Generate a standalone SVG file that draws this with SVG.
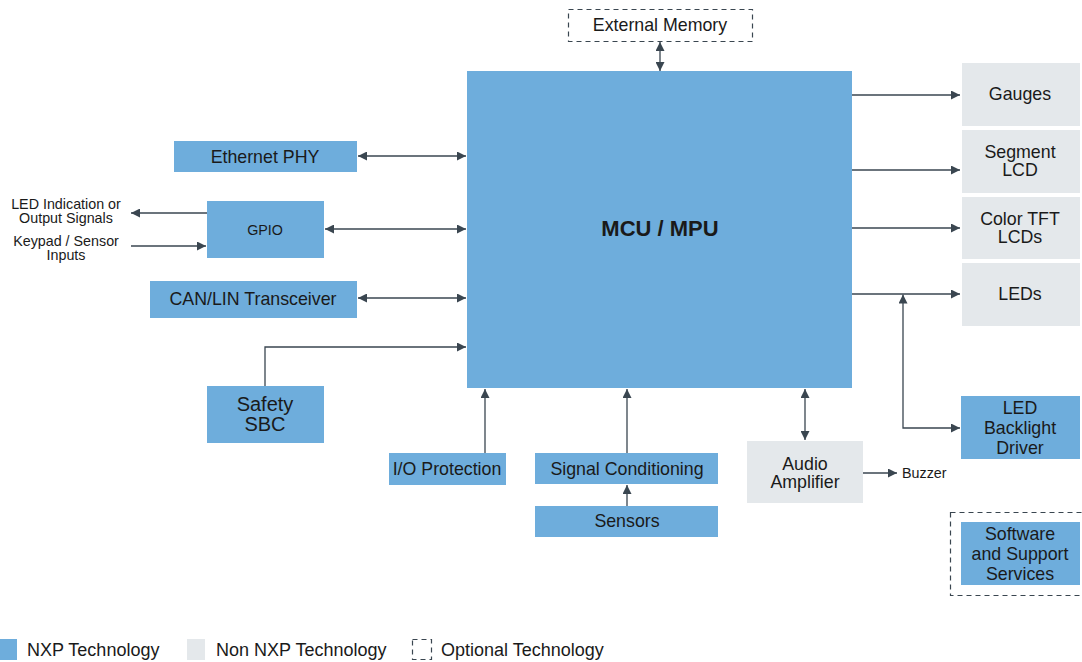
<svg xmlns="http://www.w3.org/2000/svg" width="1082" height="662" viewBox="0 0 1082 662">
<style>
text{font-family:"Liberation Sans",Arial,sans-serif;fill:#1a1a1a;text-anchor:middle}
.nxp{fill:#6eaddc}
.non{fill:#e4e8eb}
.opt{fill:#fff;stroke:#3a4650;stroke-width:1.2;stroke-dasharray:5,4}
.c{stroke:#3a4650;stroke-width:1.3;fill:none}
.t16{font-size:17.8px}
.t13{font-size:14.3px}
</style>
<defs>
<marker id="a" viewBox="0 0 10 10" refX="10" refY="5" markerWidth="9" markerHeight="9" markerUnits="userSpaceOnUse" orient="auto-start-reverse">
<path d="M0,0L10,5L0,10z" fill="#3a4650"/>
</marker>
</defs>
<rect width="1082" height="662" fill="#fff"/>
<g id="mcu"><rect class="nxp" x="467" y="71" width="385" height="317"/><text x="660" y="236" style="font-size:22px;font-weight:bold">MCU / MPU</text></g>
<g id="extmem"><rect class="opt" x="568.5" y="9.5" width="184" height="32"/><text class="t16" x="660" y="31">External Memory</text></g>
<g id="gauges"><rect class="non" x="962" y="63" width="118" height="63"/><text class="t16" x="1020" y="100">Gauges</text></g>
<g id="seglcd"><rect class="non" x="962" y="130" width="118" height="63"/><text class="t16" x="1020" y="158">Segment</text><text class="t16" x="1020" y="176">LCD</text></g>
<g id="tft"><rect class="non" x="962" y="197" width="118" height="62"/><text class="t16" x="1020" y="225">Color TFT</text><text class="t16" x="1020" y="243">LCDs</text></g>
<g id="leds"><rect class="non" x="962" y="263" width="118" height="63"/><text class="t16" x="1020" y="300">LEDs</text></g>
<g id="backlight"><rect class="nxp" x="961" y="396" width="119" height="63"/><text class="t16" x="1020" y="414">LED</text><text class="t16" x="1020" y="434">Backlight</text><text class="t16" x="1020" y="454">Driver</text></g>
<g id="software"><rect class="opt" x="950.5" y="512.5" width="140" height="83"/><rect class="nxp" x="961" y="522" width="119" height="63"/><text class="t16" x="1020" y="540">Software</text><text class="t16" x="1020" y="560">and Support</text><text class="t16" x="1020" y="580">Services</text></g>
<g id="audio"><rect class="non" x="747" y="441" width="116" height="62"/><text class="t16" x="805" y="470">Audio</text><text class="t16" x="805" y="488">Amplifier</text></g>
<g id="buzzer"><text class="t13" x="902" y="478" style="text-anchor:start">Buzzer</text></g>
<g id="sigcond"><rect class="nxp" x="535" y="453" width="183" height="31"/><text class="t16" x="627" y="475">Signal Conditioning</text></g>
<g id="sensors"><rect class="nxp" x="535" y="506" width="183" height="31"/><text class="t16" x="627" y="527">Sensors</text></g>
<g id="ioprot"><rect class="nxp" x="389" y="453" width="117" height="32"/><text class="t16" x="447" y="475">I/O Protection</text></g>
<g id="sbc"><rect class="nxp" x="207" y="386" width="117" height="57"/><text x="265" y="411" style="font-size:20px">Safety</text><text x="265" y="431" style="font-size:20px">SBC</text></g>
<g id="canlin"><rect class="nxp" x="150" y="281" width="207" height="37"/><text class="t16" x="253" y="305">CAN/LIN Transceiver</text></g>
<g id="gpio"><rect class="nxp" x="207" y="201" width="117" height="57"/><text class="t13" x="265" y="235">GPIO</text></g>
<g id="ethphy"><rect class="nxp" x="174" y="141" width="183" height="31"/><text class="t16" x="265" y="163">Ethernet PHY</text></g>
<g id="leftlabels">
<text class="t13" x="66" y="209">LED Indication or</text><text class="t13" x="66" y="223">Output Signals</text>
<text class="t13" x="66" y="246">Keypad / Sensor</text><text class="t13" x="66" y="260">Inputs</text>
</g>
<g id="connectors">
<line class="c" x1="660" y1="42" x2="660" y2="71" marker-start="url(#a)" marker-end="url(#a)"/>
<line class="c" x1="852" y1="95" x2="960" y2="95" marker-end="url(#a)"/>
<line class="c" x1="852" y1="170" x2="960" y2="170" marker-end="url(#a)"/>
<line class="c" x1="852" y1="228" x2="960" y2="228" marker-end="url(#a)"/>
<line class="c" x1="852" y1="294" x2="960" y2="294" marker-end="url(#a)"/>
<path class="c" d="M960,428H903V294.5" marker-start="url(#a)" marker-end="url(#a)"/>
<line class="c" x1="805" y1="389" x2="805" y2="440" marker-start="url(#a)" marker-end="url(#a)"/>
<line class="c" x1="863" y1="473" x2="897" y2="473" marker-end="url(#a)"/>
<line class="c" x1="627" y1="453" x2="627" y2="389" marker-end="url(#a)"/>
<line class="c" x1="627" y1="506" x2="627" y2="485" marker-end="url(#a)"/>
<line class="c" x1="485" y1="453" x2="485" y2="389" marker-end="url(#a)"/>
<path class="c" d="M265,386V347H466" marker-end="url(#a)"/>
<line class="c" x1="358" y1="298" x2="466" y2="298" marker-start="url(#a)" marker-end="url(#a)"/>
<line class="c" x1="325" y1="229" x2="466" y2="229" marker-start="url(#a)" marker-end="url(#a)"/>
<line class="c" x1="358" y1="156" x2="466" y2="156" marker-start="url(#a)" marker-end="url(#a)"/>
<line class="c" x1="207" y1="213" x2="131" y2="213" marker-end="url(#a)"/>
<line class="c" x1="131" y1="246" x2="206" y2="246" marker-end="url(#a)"/>
</g>
<g id="legend">
<rect class="nxp" x="0" y="639" width="17" height="21"/><text x="27" y="656" style="font-size:18px;text-anchor:start">NXP Technology</text>
<rect class="non" x="187" y="639" width="18" height="21"/><text x="216" y="656" style="font-size:18px;text-anchor:start">Non NXP Technology</text>
<rect class="opt" x="412.5" y="639.5" width="19" height="20"/><text x="441" y="656" style="font-size:18px;text-anchor:start">Optional Technology</text>
</g>
</svg>
